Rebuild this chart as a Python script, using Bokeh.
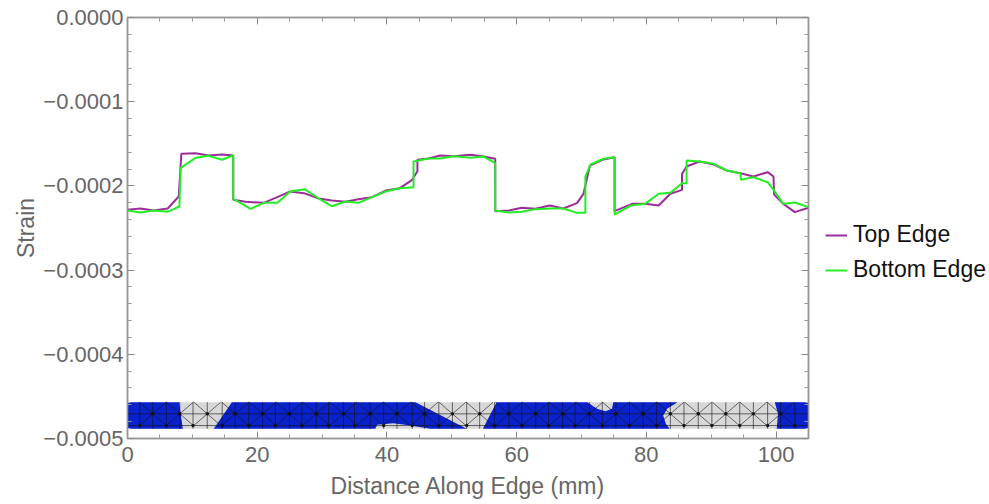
from bokeh.plotting import figure
from bokeh.models import Range1d, LinearAxis, FixedTicker, Legend, LegendItem
from bokeh.embed import file_html
from bokeh.resources import INLINE

E = 1e-6
top_x = [0,2,4.06,6.2,7.9,8.3,10.5,12.5,14.6,16.3,16.3,18.2,21,23.1,25.1,27.2,29.5,31.5,33.6,35.6,37.7,39.8,42,43.9,44.7,44.7,46.4,48.2,50.3,52.85,54.9,56.7,56.7,58.8,60.8,62.9,65.1,67.2,69.3,70.3,71.3,73.4,75.1,75.1,77.8,79.8,81.9,83.7,85.5,85.5,86.2,88.2,90.4,92.4,94.5,96.5,98.7,99.6,99.7,101.1,102.9,105]
top_y = [228.4,226.8,229.2,226.8,212.6,161.9,161.1,163.9,162.7,163.9,216.5,218.9,220.1,213.4,206.6,208.6,215,217.3,218.9,215.8,213.4,205.5,202.7,192.8,182.5,169,167.5,163.9,164.7,163,165.1,167.8,230,229.2,226,227.2,223.3,226.8,220.5,209.4,175.8,168.6,165.9,230,221.3,221.3,223.3,209.4,204.7,185.7,177,171,174.6,181.7,184.9,188.8,183.7,188.8,210.2,221.3,231.2,226]
bottom_x = [0,2,4.06,6.2,8,8.2,10.5,12.5,14.6,16.3,16.3,19,21,23.1,25.1,27.3,29.5,31.5,33.6,35.6,37.7,39.8,42,44.1,44.1,46.4,48.2,50.3,52.85,54.9,56.7,56.7,58.8,60.8,62.9,65.1,67.2,69.3,70.6,70.6,71.4,73.4,75.1,75.1,77.5,79.8,81.9,83.7,85.5,86.2,86.2,88.2,90.4,92.4,94.5,94.6,96.5,98.7,99.7,101.1,102.9,105]
bottom_y = [229.2,231.6,229.2,230.8,224.5,178.5,166.7,164.3,169,163.9,215.4,227.2,220.1,220.1,206.6,203.9,215,224.1,218.5,220.1,213.4,206.6,202.7,201.5,171,167.5,167.5,164.7,166.7,165.1,173,229.2,231.6,230.8,227.6,226.8,226.8,232,232,188.8,174.6,167.8,165.9,234,223.6,221.3,209.4,208.2,196.8,196.8,169.8,171,173.8,181.7,184.9,192.8,189.6,195.6,205.5,221.3,219.7,225.2]

band_x = [0.6,104.4,104.85,105,105,104.85,104.4,0.6,0.15,0,0,0.15]
band_y = [456.8,456.8,457.4,458.8,486.5,487.9,488.5,488.5,487.9,486.5,458.8,457.4]
blue_xs = [
    [0.6,7.96,8.53,0.6,0.15,0,0,0.15],
    [16.1,44.4,52.3,46.7,43.6,41,38.5,38.2,13.3],
    [56.9,70.9,72.4,73.7,74.7,74.9,84.8,83.2,82.6,83,83.6,54.8],
    [99.8,104.4,104.85,105,105,104.85,104.4,100.1,100.3],
]
blue_ys = [
    [456.8,456.8,488.5,488.5,487.9,486.5,458.8,457.4],
    [456.8,456.8,488.5,488.5,484.6,481.8,483.8,488.5,488.5],
    [456.8,456.8,464.7,467.5,464.7,456.8,456.8,464.7,472.7,482.6,488.5,488.5],
    [456.8,456.8,457.4,458.8,486.5,487.9,488.5,488.5,470.7],
]
mesh_mid_x = [3.9,8.06,12.3,16.6,20.85,24.96,29.1,33.3,37.4,41.55,45.8,50.1,54.3,58.8,62.95,67.1,71.2,75.3,79.5,83.7,88,92.25,96.5,100.7]
mesh_low_x = [1.9,6,10.1,14.6,18.7,22.8,26.9,31,35,39.5,43.9,48,52.3,56.6,60.8,64.9,69,73.2,77.4,81.6,85.8,90.1,94.4,98.7,102.9]
row_top, row_mid, row_low, row_bot = 456.8, 470.7, 484.6, 488.5

x_ticks = [0,20,40,60,80,100]
x_labels = ["0","20","40","60","80","100"]
x_minor = [5,10,15,25,30,35,45,50,55,65,70,75,85,90,95,105]
y_tick_units = [0,-1,-2,-3,-4,-5]
y_labels = ["0.0000","\u22120.0001","\u22120.0002","\u22120.0003","\u22120.0004","\u22120.0005"]
y_minor_units = [-0.2,-0.4,-0.6,-0.8,-1.2,-1.4,-1.6,-1.8,-2.2,-2.4,-2.6,-2.8,-3.2,-3.4,-3.6,-3.8,-4.2,-4.4,-4.6,-4.8]

neg = lambda v: [-a * E for a in v]
y_ticks = [u * 1e-4 for u in y_tick_units]
y_minor = [u * 1e-4 for u in y_minor_units]

p = figure(output_backend="svg", toolbar_location=None,
           x_range=Range1d(0, 105), y_range=Range1d(-0.0005, 0),
           frame_width=681, frame_height=421, min_border_left=127,
           min_border_top=17, min_border_right=0, min_border_bottom=0)
p.grid.visible = False
p.background_fill_color = "white"
p.outline_line_color = "#999999"
p.outline_line_width = 1.5

GREY = "#666666"
FRAME = "#999999"
def style(ax, labels=True):
    ax.axis_line_color = FRAME
    ax.axis_line_width = 1.5
    ax.major_tick_line_color = "#888888"
    ax.minor_tick_line_color = "#999999"
    ax.major_tick_in = 7
    ax.major_tick_out = 0
    ax.minor_tick_in = 4
    ax.minor_tick_out = 0
    if labels:
        ax.major_label_text_font = "Liberation Sans"
        ax.major_label_text_font_size = "22px"
        ax.major_label_text_color = GREY
        ax.axis_label_text_font = "Liberation Sans"
        ax.axis_label_text_font_size = "23px"
        ax.axis_label_text_font_style = "normal"
        ax.axis_label_text_color = GREY

xa = p.xaxis[0]
xa.ticker = FixedTicker(ticks=x_ticks, minor_ticks=x_minor)
xa.major_label_overrides = dict(zip(x_ticks, x_labels))
xa.major_label_standoff = 8
xa.axis_label = "Distance Along Edge (mm)"
xa.axis_label_standoff = 8
style(xa)

ya = p.yaxis[0]
ya.ticker = FixedTicker(ticks=y_ticks, minor_ticks=y_minor)
ya.major_label_overrides = dict(zip(y_ticks, y_labels))
ya.axis_label = "Strain"
ya.major_label_standoff = 4
ya.axis_label_standoff = 1
style(ya)

ta = LinearAxis(ticker=FixedTicker(ticks=x_ticks, minor_ticks=x_minor),
                major_label_overrides={t: "" for t in x_ticks},
                major_label_standoff=0, major_label_text_font_size="1px")
style(ta, False)
p.add_layout(ta, "above")
ra = LinearAxis(ticker=FixedTicker(ticks=y_ticks, minor_ticks=y_minor),
                major_label_overrides={t: "" for t in y_ticks},
                major_label_standoff=0, major_label_text_font_size="1px")
style(ra, False)
p.add_layout(ra, "right")

p.patch(band_x, neg(band_y), fill_color="#d8d8d8", line_color=None)
p.patches(blue_xs, [neg(v) for v in blue_ys], fill_color="#0a22cc", line_color=None)

xs, ys = [], []
def seg(x0, r0, x1, r1):
    xs.append([x0, x1]); ys.append([-r0 * E, -r1 * E])
for r in (row_mid, row_low):
    seg(0, r, 105, r)
for m in mesh_mid_x:
    seg(m, row_top, m, row_bot)
    for d in (-2.08, 2.08):
        seg(m, row_mid, m + d, row_top)
        seg(m, row_mid, m + d, row_low)
for l in mesh_low_x:
    seg(l, row_top, l, row_bot)
p.multi_line(xs, ys, line_color="#111111", line_width=0.8, line_alpha=0.75)
p.scatter(mesh_mid_x, [-row_mid * E] * len(mesh_mid_x), size=2.5, color="#111111")
p.scatter(mesh_low_x, [-row_low * E] * len(mesh_low_x), size=2.5, color="#111111")

r_top = p.line(top_x, neg(top_y), line_color="#9c2c9c", line_width=2)
r_bot = p.line(bottom_x, neg(bottom_y), line_color="#22ee22", line_width=2)

legend = Legend(items=[LegendItem(label="Top Edge", renderers=[r_top]),
                       LegendItem(label="Bottom Edge", renderers=[r_bot])],
                location=(-222, 155), background_fill_alpha=0, border_line_color=None,
                label_text_font="Liberation Sans", label_text_font_size="23px",
                label_text_color="#111111", glyph_width=22, glyph_height=20,
                spacing=8, padding=0, margin=0, label_standoff=6)
p.add_layout(legend, "right")

open("out.html", "w").write(file_html(p, INLINE))
